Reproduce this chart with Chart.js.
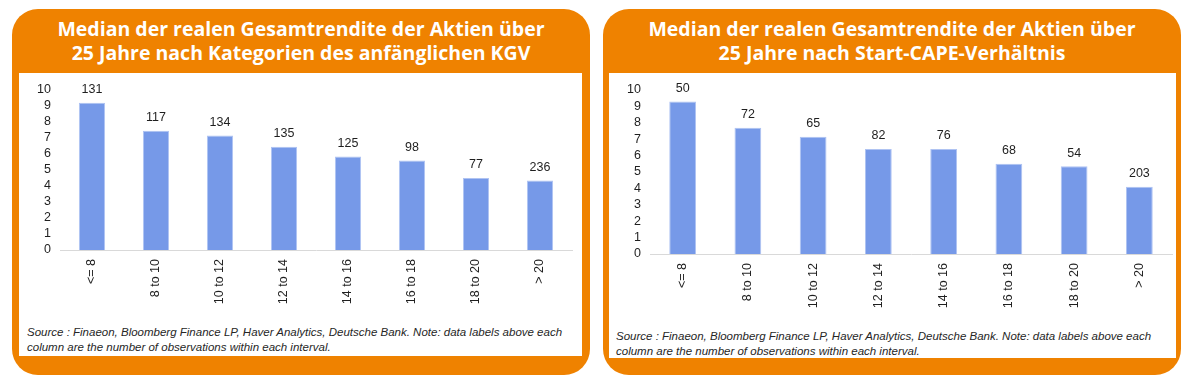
<!DOCTYPE html>
<html lang="de">
<head>
<meta charset="UTF-8">
<title>KGV / CAPE</title>
<script src="https://cdn.jsdelivr.net/npm/chart.js@4.4.1/dist/chart.umd.min.js"></script>
<style>
  html, body { margin: 0; padding: 0; background: #fff; }
  body { width: 1198px; height: 391px; position: relative; overflow: hidden; }
  .card { position: absolute; background: #EF8200; border-radius: 26px; }
  .title { position: absolute; left: 0; right: 0; top: 8px; text-align: center;
           color: #fff; font: 700 19.5px "Open Sans", sans-serif; line-height: 24px; }
  .inner { position: absolute; background: #fff; }
  canvas { position: absolute; }
  .src { position: absolute; font: italic 11.5px "Liberation Sans", Arial, sans-serif;
         color: #262626; line-height: 14.5px; white-space: nowrap; }
</style>
</head>
<body>

<div class="card" style="left:12px; top:9px; width:578px; height:366px;">
  <div class="title">Median der realen Gesamtrendite der Aktien über<br>25 Jahre nach Kategorien des anfänglichen KGV</div>
</div>
<div class="inner" style="left:19px; top:73px; width:563px; height:283px;"></div>
<canvas id="kgvChart" style="left:19px; top:73px;" width="563" height="240"></canvas>
<div class="src" style="left:27px; top:325px;">Source : Finaeon, Bloomberg Finance LP, Haver Analytics, Deutsche Bank. Note: data labels above each<br>column are the number of observations within each interval.</div>

<div class="card" style="left:603px; top:9px; width:578px; height:366px;">
  <div class="title">Median der realen Gesamtrendite der Aktien über<br>25 Jahre nach Start-CAPE-Verhältnis</div>
</div>
<div class="inner" style="left:609px; top:73px; width:567px; height:285px;"></div>
<canvas id="capeChart" style="left:609px; top:73px;" width="567" height="244"></canvas>
<div class="src" style="left:616px; top:329px;">Source : Finaeon, Bloomberg Finance LP, Haver Analytics, Deutsche Bank. Note: data labels above each<br>column are the number of observations within each interval.</div>

<script>
// categories (interval of the starting valuation)
const categories = ['<= 8', '8 to 10', '10 to 12', '12 to 14', '14 to 16', '16 to 18', '18 to 20', '> 20'];

// left: by starting P/E (KGV)
const kgvReturns = [9.2, 7.45, 7.15, 6.45, 5.85, 5.6, 4.5, 4.35];
const kgvCounts = [131, 117, 134, 135, 125, 98, 77, 236];

// right: by starting CAPE
const capeReturns = [9.3, 7.7, 7.15, 6.4, 6.4, 5.5, 5.35, 4.1];
const capeCounts = [50, 72, 65, 82, 76, 68, 54, 203];

// y axis
const yMin = 0, yMax = 10, yStep = 1;

const FONT = '"Liberation Sans", Arial, sans-serif';

// draws the number of observations above each bar
const countLabels = {
  id: 'countLabels',
  afterDatasetsDraw(chart, args, opts) {
    const ctx = chart.ctx;
    const meta = chart.getDatasetMeta(0);
    ctx.save();
    ctx.font = '12.5px ' + FONT;
    ctx.fillStyle = '#1f1f1f';
    ctx.textAlign = 'center';
    ctx.textBaseline = 'middle';
    meta.data.forEach((bar, i) => {
      ctx.fillText(String(opts.counts[i]), bar.x, bar.y - 13);
    });
    ctx.restore();
  }
};

function makeChart(id, values, counts, yWidth, padRight, xHeight) {
  return new Chart(document.getElementById(id), {
    type: 'bar',
    data: {
      labels: categories,
      datasets: [{
        data: values,
        backgroundColor: '#7699E8',
        borderColor: '#AFC3F2',
        borderWidth: 1,
        barPercentage: 0.41,
        categoryPercentage: 1
      }]
    },
    options: {
      responsive: false,
      animation: false,
      layout: { padding: { top: 17, right: padRight, left: 0, bottom: 0 } },
      plugins: {
        legend: { display: false },
        tooltip: { enabled: false },
        countLabels: { counts: counts }
      },
      scales: {
        x: {
          grid: { display: false, drawTicks: false, tickLength: 0 },
          border: { display: true, color: '#D9D9D9', width: 1 },
          ticks: { color: '#1f1f1f', font: { family: FONT, size: 12.5 }, padding: 9,
                   minRotation: 90, maxRotation: 90, autoSkip: false },
          afterFit: (s) => { s.height = xHeight; }
        },
        y: {
          min: yMin, max: yMax,
          grid: { display: false, drawTicks: false, tickLength: 0 },
          border: { display: false },
          ticks: { stepSize: yStep, autoSkip: false, color: '#1f1f1f',
                   font: { family: FONT, size: 12.5 }, padding: 9 },
          afterFit: (s) => { s.width = yWidth; }
        }
      }
    },
    plugins: [countLabels]
  });
}

makeChart('kgvChart', kgvReturns, kgvCounts, 41, 10, 63);
makeChart('capeChart', capeReturns, capeCounts, 41, 4, 63);
</script>
</body>
</html>
